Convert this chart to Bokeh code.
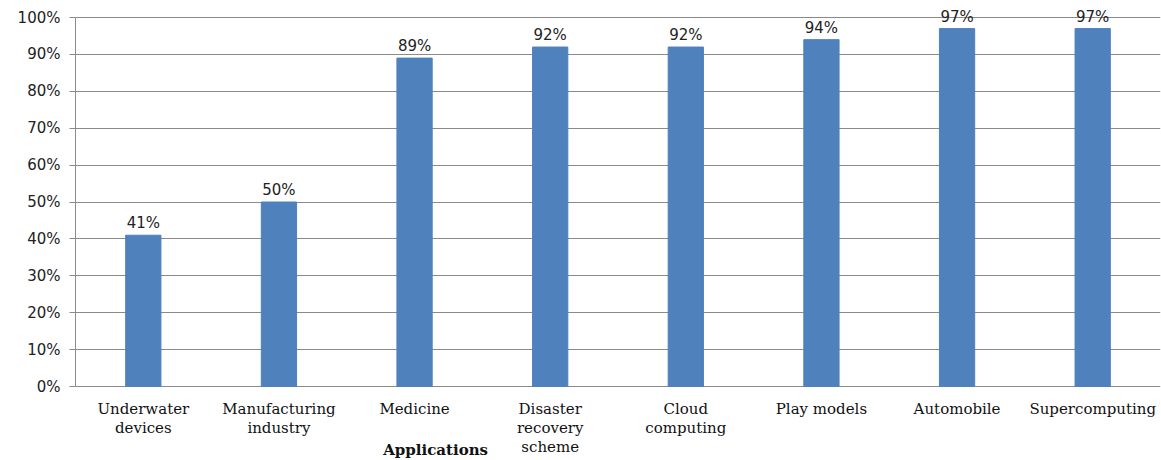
from bokeh.plotting import figure
from bokeh.models import ColumnDataSource, Range1d, FixedTicker, PrintfTickFormatter, LabelSet, Label
from bokeh.core.properties import value
from bokeh.embed import file_html
from bokeh.resources import INLINE

categories = ["Underwater devices", "Manufacturing industry", "Medicine",
              "Disaster recovery scheme", "Cloud computing", "Play models",
              "Automobile", "Supercomputing"]
tick_labels = ["Underwater\ndevices", "Manufacturing\nindustry", "Medicine",
               "Disaster\nrecovery\nscheme", "Cloud\ncomputing", "Play models",
               "Automobile", "Supercomputing"]
values = [41, 50, 89, 92, 92, 94, 97, 97]
y_ticks = [0, 10, 20, 30, 40, 50, 60, 70, 80, 90, 100]
x_title = "Applications"

src = ColumnDataSource(dict(cat=categories, val=values,
                            lab=[f"{v}%" for v in values]))

# one row per line of each category label
line_gap = 19
rows = dict(cat=[], txt=[], off=[])
for c, t in zip(categories, tick_labels):
    for i, ln in enumerate(t.split("\n")):
        rows["cat"].append(c)
        rows["txt"].append(ln)
        rows["off"].append(-13 - line_gap * i)
cat_src = ColumnDataSource(rows)

p = figure(x_range=categories, y_range=Range1d(-20.05, 104.61), width=1161, height=460,
           output_backend="svg", toolbar_location=None,
           min_border=0, min_border_left=75, min_border_right=1)

p.vbar(x="cat", top="val", width=0.26, source=src, fill_color="#4F81BD",
       line_color="#4F81BD")

labels = LabelSet(x="cat", y="val", text="lab", source=src, y_offset=3,
                  text_align="center", text_baseline="bottom",
                  text_font=value("DejaVu Sans"), text_font_size="15px",
                  text_color="#222222")
p.add_layout(labels)

cat_labels = LabelSet(x="cat", y=0, text="txt", source=cat_src, y_offset="off",
                      text_align="center", text_baseline="top",
                      text_font=value("DejaVu Serif"), text_font_size="15px",
                      text_color="#111111")
p.add_layout(cat_labels)

p.outline_line_color = None
p.xgrid.grid_line_color = None
p.ygrid.grid_line_color = "#8a8a8a"
p.ygrid.grid_line_width = 1

p.xaxis.visible = False

p.yaxis.ticker = FixedTicker(ticks=y_ticks)
p.yaxis.bounds = (0, 100)
p.yaxis.formatter = PrintfTickFormatter(format="%d%%")
p.yaxis.axis_line_color = "#8a8a8a"
p.yaxis.major_tick_line_color = "#8a8a8a"
p.yaxis.major_tick_out = 6
p.yaxis.major_tick_in = 0
p.yaxis.minor_tick_line_color = None
p.yaxis.major_label_text_font = "DejaVu Sans"
p.yaxis.major_label_text_font_size = "15px"
p.yaxis.major_label_text_color = "#222222"
p.yaxis.major_label_standoff = 9

title = Label(x=2.655, y=0, y_offset=-63, text=x_title,
              text_align="center", text_baseline="middle",
              text_font="DejaVu Serif", text_font_size="15px",
              text_font_style="bold", text_color="#111111")
p.add_layout(title)

open("out.html", "w").write(file_html(p, INLINE))
